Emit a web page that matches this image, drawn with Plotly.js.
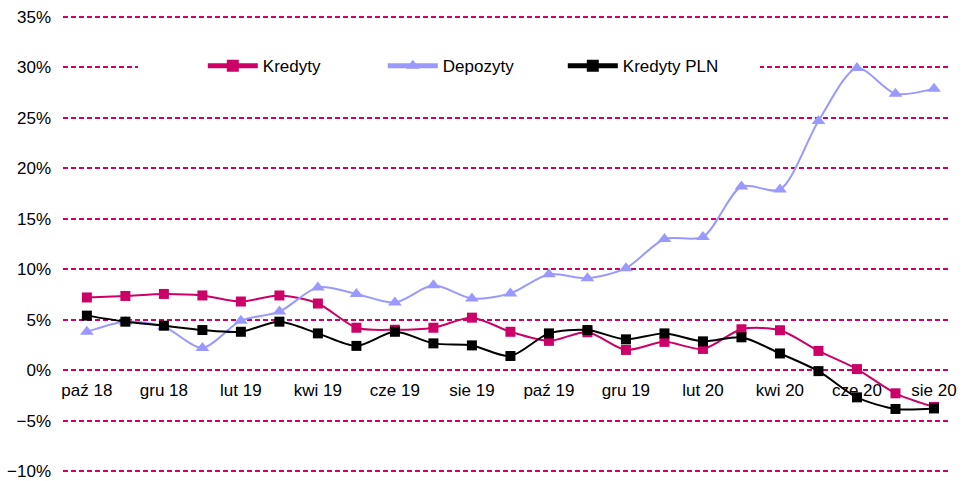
<!DOCTYPE html>
<html>
<head>
<meta charset="utf-8">
<script src="https://cdn.plot.ly/plotly-3.0.1.min.js"></script>
<style>html,body{margin:0;padding:0;background:#fff;}#chart{width:962px;height:481px;}</style>
</head>
<body>
<div id="chart"></div>
<script>
const months = ["paź 18","lis 18","gru 18","sty 19","lut 19","mar 19","kwi 19","maj 19","cze 19","lip 19","sie 19","wrz 19","paź 19","lis 19","gru 19","sty 20","lut 20","mar 20","kwi 20","maj 20","cze 20","lip 20","sie 20"];
const tickMonths = ["paź 18","gru 18","lut 19","kwi 19","cze 19","sie 19","paź 19","gru 19","lut 20","kwi 20","cze 20","sie 20"];
const kredyty = [7.2,7.35,7.55,7.4,6.8,7.4,6.6,4.2,4.0,4.2,5.2,3.8,2.9,3.75,2.0,2.8,2.1,4.05,3.95,1.9,0.1,-2.3,-3.65];
const depozyty = [3.8,4.8,4.3,2.2,4.9,5.8,8.2,7.55,6.7,8.4,7.1,7.6,9.5,9.1,10.1,13.0,13.2,18.2,17.9,24.7,29.95,27.4,27.9];
const kredytyPLN = [5.4,4.8,4.4,3.97,3.8,4.8,3.64,2.4,3.8,2.65,2.45,1.4,3.64,3.97,3.05,3.64,2.85,3.25,1.65,-0.1,-2.7,-3.85,-3.8];

const font = {family: "Liberation Sans, Arial, sans-serif", size: 17, color: "#000"};
const traces = [
  {name: "Kredyty", x: months, y: kredyty, type: "scatter", mode: "lines+markers",
   line: {color: "#CC0066", width: 2, shape: "spline", smoothing: 0.8},
   marker: {symbol: "square", size: 10, color: "#CC0066"}},
  {name: "Depozyty", x: months, y: depozyty, type: "scatter", mode: "lines+markers",
   line: {color: "#9999FF", width: 2, shape: "spline", smoothing: 0.8},
   marker: {symbol: "triangle-up", size: 12, color: "#9999FF"}},
  {name: "Kredyty PLN", x: months, y: kredytyPLN, type: "scatter", mode: "lines+markers",
   line: {color: "#000000", width: 2, shape: "spline", smoothing: 0.8},
   marker: {symbol: "square", size: 10, color: "#000000"}}
];
const plotL = 63, plotW = 886, plotT = 16, plotH = 456;
const pad = "\u00a0".repeat(8);
const layout = {
  width: 962, height: 481,
  margin: {l: plotL, r: 962 - plotL - plotW, t: plotT, b: 481 - plotT - plotH, pad: 0},
  paper_bgcolor: "#fff", plot_bgcolor: "#fff",
  font: font,
  showlegend: true,
  legend: {orientation: "h", x: (138 - plotL) / plotW, xanchor: "left", y: 0.89, yanchor: "middle",
           bgcolor: "#fff", bordercolor: "#fff", borderwidth: 17, font: font, itemwidth: 50,
           title: {text: pad, side: "left", font: font},
           entrywidth: 115, entrywidthmode: "pixels", itemsizing: "constant"},
  xaxis: {type: "category", categoryarray: months, categoryorder: "array",
          range: [-0.62, 22.39], anchor: "free", position: (0 + 10.1) / 45.2,
          tickvals: tickMonths, ticktext: tickMonths, showgrid: false, zeroline: false,
          showline: false, ticks: "", ticklabelstandoff: 8, tickfont: font, fixedrange: true},
  yaxis: {range: [-10.1, 35.1], dtick: 5, tick0: 0, ticksuffix: "%", showgrid: true,
          gridcolor: "#CC0066", griddash: "5px,3px", gridwidth: 2, zeroline: false,
          showline: false, ticks: "", ticklabelstandoff: 11, tickfont: font, fixedrange: true}
};
Plotly.newPlot("chart", traces, layout, {displayModeBar: false, staticPlot: true});
</script>
</body>
</html>
